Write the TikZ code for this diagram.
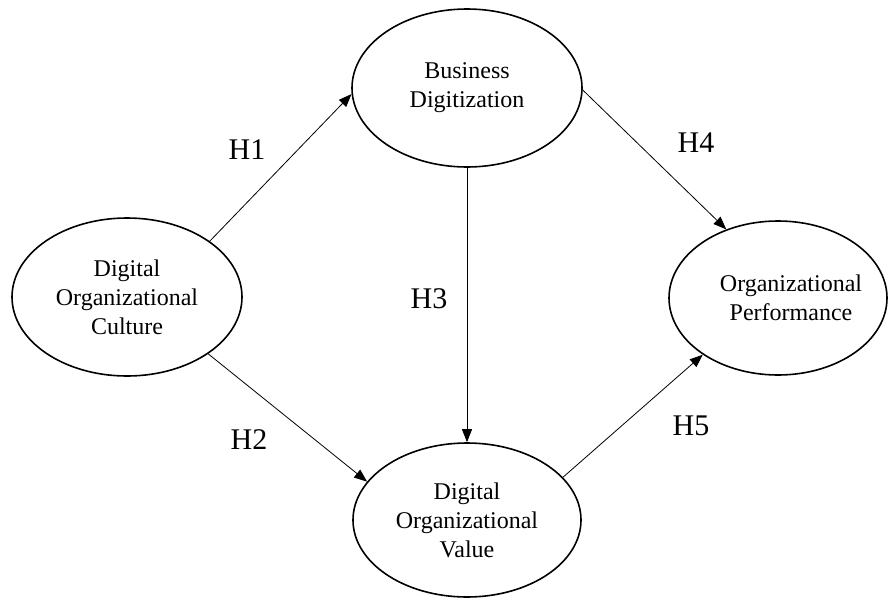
\documentclass[tikz,border=0pt]{standalone}
\usepackage{fontspec}
\setmainfont{Liberation Serif}
\usetikzlibrary{shapes.geometric,arrows.meta}
\begin{document}
\begin{tikzpicture}[x=1pt,y=-1pt,
  construct/.style={ellipse,draw,line width=1.6pt,inner sep=0pt,align=center,font=\fontsize{24}{29}\selectfont},
  link/.style={line width=0.8pt,-{Triangle[length=13pt,width=10pt]}},
  hyp/.style={font=\fontsize{30}{36}\selectfont,inner sep=0pt}]
\useasboundingbox (0,0) rectangle (889,600);
\node[construct,minimum width=230pt,minimum height=158pt] (dc) at (127,297) {Digital\\Organizational\\Culture};
\node[construct,minimum width=230pt,minimum height=158pt] (bd) at (467,88) {Business\\Digitization};
\node[construct,minimum width=228pt,minimum height=154pt] (dov) at (467,520) {Digital\\Organizational\\Value};
\node[construct,minimum width=218pt,minimum height=154pt,
  label={[xshift=13pt,align=center,font=\fontsize{24}{29}\selectfont]center:Organizational\\Performance}] (op) at (778,298) {};
\draw[link] (dc.34) -- (bd.183);
\draw[link] (dc.-35) -- (dov.159);
\draw[link] (bd.south) -- (dov.north);
\draw[link] (bd.-1) -- (op.127);
\draw[link] (dov.24) -- (op.217);
\node[hyp] (h1) at (247,150) {H1};
\node[hyp] (h2) at (249,440) {H2};
\node[hyp] (h3) at (429,299) {H3};
\node[hyp] (h4) at (696,143) {H4};
\node[hyp] (h5) at (691,426) {H5};
\end{tikzpicture}
\end{document}
